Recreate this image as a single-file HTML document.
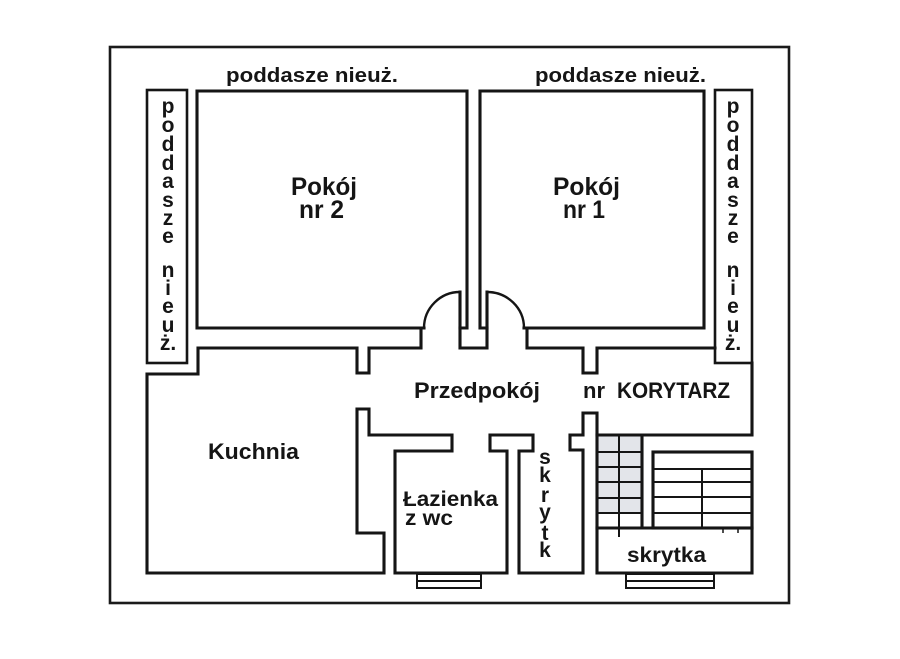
<!DOCTYPE html>
<html>
<head>
<meta charset="utf-8">
<style>
  html, body { margin: 0; padding: 0; background: #ffffff; }
  svg { display: block; }
  text { font-family: "Liberation Sans", "DejaVu Sans", sans-serif; font-weight: bold; fill: #151515; }
</style>
</head>
<body>
<svg width="900" height="659" viewBox="0 0 900 659" xmlns="http://www.w3.org/2000/svg">
  <rect x="0" y="0" width="900" height="659" fill="#ffffff"/>

  <!-- outer border -->
  <rect x="110" y="47" width="679" height="556" fill="none" stroke="#1a1a1a" stroke-width="2.6"/>

  <!-- stairs shading -->
  <rect x="597" y="435" width="45" height="78" fill="#e3e5ea"/>

  <g fill="none" stroke="#151515" stroke-width="3.1" stroke-linejoin="miter" stroke-linecap="square">
    <!-- attic strips -->
    <rect x="147" y="90" width="40" height="273" stroke-width="2.6"/>
    <rect x="715" y="90" width="37" height="273" stroke-width="2.6"/>

    <!-- Pokój 2 -->
    <path d="M424,328 L197,328 L197,91 L467,91 L467,328 L460,328"/>
    <path d="M460,292 A36,36 0 0 0 424,328" stroke-width="2.4"/>
    <!-- central stub with door leaves -->
    <path d="M460,292 L460,348 L487,348 L487,292"/>
    <!-- Pokój 1 -->
    <path d="M524,328 L704,328 L704,91 L480,91 L480,328 L487,328"/>
    <path d="M487,292 A37,36 0 0 1 524,328" stroke-width="2.4"/>

    <!-- left hall / kitchen / bath / closet outline -->
    <path d="M421,328 L421,348 L369,348 L369,373 L357,373 L357,348 L198,348 L198,374 L147,374 L147,573 L384,573 L384,533 L357,533 L357,409 L369,409 L369,435 L452,435 L452,451 L395,451 L395,573 L507,573 L507,451 L490,451 L490,435 L533,435 L533,451 L519,451 L519,573 L583,573 L583,450 L570,450 L570,435 L583,435 L583,413 L597,413 L597,573 L752,573 L752,452"/>

    <!-- right hall top wall -->
    <path d="M527,328 L527,348 L583,348 L583,373 L597,373 L597,348 L715,348"/>
    <!-- corridor right and bottom -->
    <path d="M752,363 L752,435 L597,435"/>
    <path d="M642,435 L642,528"/>
    <!-- skrytka top -->
    <path d="M597,528 L752,528"/>
    <!-- right stairs box -->
    <rect x="653" y="452" width="99" height="76"/>
  </g>

  <!-- stair lines -->
  <g stroke="#151515" stroke-width="2" fill="none">
    <path d="M597,452 H642 M597,467 H642 M597,482 H642 M597,498 H642 M597,513 H642"/>
    <path d="M619,435 V537"/>
    <path d="M653,469 H752 M653,482 H752 M653,497 H752 M653,513 H752"/>
    <path d="M702,469 V528"/>
    <path d="M723,528 V533 M738,528 V533" stroke-width="1.5"/>
  </g>

  <!-- windows -->
  <g fill="#ffffff" stroke="#151515" stroke-width="2">
    <rect x="417" y="574" width="64" height="14"/>
    <path d="M417,581 H481"/>
    <rect x="626" y="574" width="88" height="14"/>
    <path d="M626,581 H714"/>
  </g>

  <!-- top labels -->
  <text x="226" y="82" font-size="20" textLength="172" lengthAdjust="spacingAndGlyphs">poddasze nieuż.</text>
  <text x="535" y="82" font-size="20" textLength="171" lengthAdjust="spacingAndGlyphs">poddasze nieuż.</text>

  <!-- vertical attic labels -->
  <g font-size="21" text-anchor="middle">
    <text x="168" y="113">p</text>
    <text x="168" y="132">o</text>
    <text x="168" y="151">d</text>
    <text x="168" y="170">d</text>
    <text x="168" y="188">a</text>
    <text x="168" y="207">s</text>
    <text x="168" y="225">z</text>
    <text x="168" y="243">e</text>
    <text x="168" y="277">n</text>
    <text x="168" y="295">i</text>
    <text x="168" y="313">e</text>
    <text x="168" y="332">u</text>
    <text x="168" y="350">ż.</text>

    <text x="733" y="113">p</text>
    <text x="733" y="132">o</text>
    <text x="733" y="151">d</text>
    <text x="733" y="170">d</text>
    <text x="733" y="188">a</text>
    <text x="733" y="207">s</text>
    <text x="733" y="225">z</text>
    <text x="733" y="243">e</text>
    <text x="733" y="277">n</text>
    <text x="733" y="295">i</text>
    <text x="733" y="313">e</text>
    <text x="733" y="332">u</text>
    <text x="733" y="350">ż.</text>

    <text x="545" y="464">s</text>
    <text x="545" y="482">k</text>
    <text x="545" y="502">r</text>
    <text x="545" y="519">y</text>
    <text x="545" y="540">t</text>
    <text x="545" y="557">k</text>
  </g>

  <!-- room labels -->
  <text x="291" y="195" font-size="25" textLength="66" lengthAdjust="spacingAndGlyphs">Pokój</text>
  <text x="299" y="218" font-size="25" textLength="45" lengthAdjust="spacingAndGlyphs">nr 2</text>
  <text x="553" y="195" font-size="25" textLength="67" lengthAdjust="spacingAndGlyphs">Pokój</text>
  <text x="563" y="218" font-size="25" textLength="42" lengthAdjust="spacingAndGlyphs">nr 1</text>

  <text x="414" y="398" font-size="22" textLength="126" lengthAdjust="spacingAndGlyphs">Przedpokój</text>
  <text x="583" y="398" font-size="22" textLength="22" lengthAdjust="spacingAndGlyphs">nr</text>
  <text x="617" y="398" font-size="22" textLength="113" lengthAdjust="spacingAndGlyphs">KORYTARZ</text>

  <text x="208" y="459" font-size="22" textLength="91" lengthAdjust="spacingAndGlyphs">Kuchnia</text>
  <text x="403" y="506" font-size="21" textLength="95" lengthAdjust="spacingAndGlyphs">Łazienka</text>
  <text x="405" y="525" font-size="21" textLength="48" lengthAdjust="spacingAndGlyphs">z wc</text>
  <text x="627" y="562" font-size="21" textLength="79" lengthAdjust="spacingAndGlyphs">skrytka</text>
</svg>
</body>
</html>
